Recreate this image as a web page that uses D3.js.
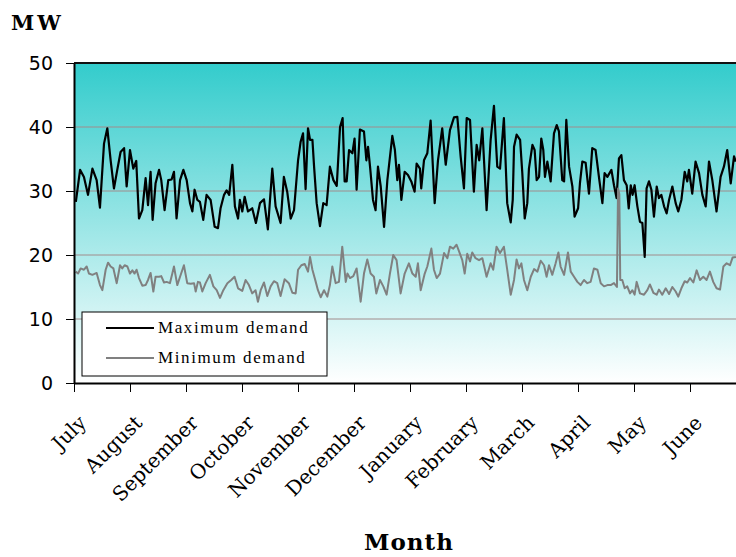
<!DOCTYPE html>
<html>
<head>
<meta charset="utf-8">
<script src="https://cdn.jsdelivr.net/npm/d3@7"></script>
<style>
  body { margin: 0; background: #fff; }
</style>
</head>
<body>
<svg id="chart" width="736" height="557"></svg>
<script>
// month categories along the x axis (financial year July -> June)
const months = ["July", "August", "September", "October", "November", "December",
                "January", "February", "March", "April", "May", "June"];
const yTicks = [0, 10, 20, 30, 40, 50];

// daily maximum demand, [day of year from 1 July, MW]
const maxDemand = [
  [1,28.3],[3.3,33.3],[5.4,32.2],[7.6,29.4],[10,33.5],[12.3,31.7],[14.1,27.4],[16.3,37.4],[18.1,39.8],[19.9,34.8],
  [21.7,30.4],[23.5,33.3],[25.3,36.1],[27.2,36.7],[28.6,30.7],[30.4,36.4],[32.2,33.5],[33.8,34.7],[35.3,25.7],[37.1,27.0],
  [38.9,32.0],[40.2,27.8],[41.6,33.0],[42.7,25.5],[44.3,31.2],[46.2,33.3],[47.4,31.7],[49.2,27.0],[51.2,31.7],[53,31.8],
  [54.3,33.0],[55.7,25.7],[57.6,31.7],[59.4,33.3],[61.2,31.7],[63,28.1],[64.3,26.8],[65.5,30.2],[67,28.6],[68.4,28.3],
  [70.2,25.5],[72,29.4],[74.2,28.6],[76.4,24.4],[78.2,24.2],[79.6,27.3],[81.5,29.4],[82.9,30.1],[84.3,29.4],[86,34.1],
  [87.4,27.6],[89.1,25.7],[90.1,28.6],[91.4,26.8],[92.7,29.1],[94.5,26.8],[96.8,27.3],[98.8,25.0],[101,28.1],[103.2,28.7],
  [105.3,24.0],[107.7,33.5],[109.5,27.6],[112.2,25.0],[114,32.2],[115.8,29.9],[117.7,25.7],[119.5,27.0],
  [121.7,34.8],[123.1,37.7],[124.4,39.0],[125.8,30.3],[127.1,39.8],[128.2,38.0],[129.5,38.0],[130.4,33.8],[131.8,28.1],
  [133.6,24.5],[135.4,28.1],[137.2,27.8],[139,33.8],[140.9,31.7],[142.7,30.8],[144.5,40.0],[145.9,41.4],[147,31.5],
  [148.1,31.5],[149.4,36.4],[151.2,35.9],[152.4,38.2],[153.5,30.2],[155.3,39.6],[157.5,39.3],[158.8,34.8],[159.7,36.9],
  [160.8,33.8],[162.4,28.6],[163.8,27.0],[165.1,33.8],[166.6,30.7],[168.4,24.4],[170.2,31.7],[172.9,38.6],[174.3,36.4],
  [175.6,31.7],[176.5,34.1],[177.8,28.6],[179.6,33.0],[181.4,32.5],[183.2,31.5],[185,29.9],[186.1,34.3],[187.9,33.5],
  [188.6,30.4],[190.1,34.8],[191.9,35.9],[193.7,41.0],[195.9,28.1],[197.7,34.8],[200,39.8],[201.9,34.1],[204.2,39.5],
  [206.4,41.5],[208.2,41.6],[210,35.4],[211.8,30.4],[213.3,41.4],[215.1,41.1],[217.2,29.9],[218.7,37.2],[220.1,34.8],
  [221.8,39.8],[224.1,27.0],[226.3,38.0],[228.1,43.3],[229.9,33.8],[231.4,33.5],[233.5,41.4],[235.3,28.1],[237.2,25.1],
  [238.3,28.6],[239,36.9],[240.4,38.8],[242.3,38.0],[243.5,32.8],[244.8,25.7],[246.2,28.1],[247.1,33.5],[249,37.2],
  [250.2,36.4],[251.3,31.7],[252.6,32.2],[253.8,38.2],[254.9,36.4],[255.8,32.2],[257.1,34.6],[258.9,31.5],[260.7,39.0],
  [262.2,40.3],[263.4,39.3],[265.2,31.7],[266.2,31.5],[267.4,41.1],[268.9,33.8],[270.7,30.7],[271.9,26.0],[273.8,27.3],
  [274.8,31.2],[276.1,34.6],[277.9,34.4],[279.7,29.6],[281.5,36.7],[283.3,36.4],[285.2,32.0],[287,28.1],[288.2,32.8],
  [289.7,32.2],[291.9,33.3],[293.3,30.9],[294.7,28.9],[296,35.1],[297.3,35.6],[298.7,31.7],[300.2,30.9],[301.3,27.3],
  [302.4,30.9],[303.4,29.4],[304.5,30.9],[306,27.6],[307.4,25.2],[308.7,25.0],[310,19.7],[311,30.4],[312.3,31.5],
  [313.6,30.2],[315,26.0],[316.5,30.7],[317.7,28.9],[319,29.4],[320.5,27.6],[321.9,26.5],[323.2,28.6],[325,30.7],
  [326.8,28.1],[328.2,26.8],[329.9,28.6],[331.7,33.0],[333.1,31.5],[334,33.3],[335.8,29.6],[337.6,34.6],[339.5,32.8],
  [341.3,29.4],[343.1,27.6],[344.9,34.6],[346.7,31.7],[349,26.8],[351.2,32.2],[353,33.8],[354.8,36.4],[356.7,31.2],
  [358.5,35.4],[359.5,34.6]
];

// daily minimum demand, [day of year from 1 July, MW]
const minDemand = [
  [0.9,17.4],[2.2,17.1],[3.6,17.9],[5.4,17.7],[6.9,18.2],[8.1,17.1],[10,16.9],[12.3,17.2],[14.1,15.3],[15.4,14.5],
  [17.2,17.7],[18.5,18.8],[19.9,18.2],[21.4,17.9],[23.2,15.6],[25,18.4],[26.2,17.9],[27.5,18.4],[29,18.2],[30.4,17.1],
  [31.7,17.6],[32.9,17.1],[34,17.7],[35.3,16.4],[37.1,15.2],[38.9,15.3],[40.2,16.1],[41.6,17.2],[43.1,14.3],[44.3,16.6],
  [46.2,16.6],[47.4,16.7],[48.9,15.7],[50.3,15.8],[52.1,15.6],[53.4,17.1],[54.3,18.2],[56.1,15.3],[57.6,16.6],[59.7,18.4],
  [61.5,15.6],[63.4,15.5],[65.2,15.6],[66.1,14.3],[67.3,15.8],[68.4,15.7],[69.7,14.3],[71.5,15.6],[73.8,16.9],[75.7,15.1],
  [77.5,14.5],[79.3,13.3],[81.1,14.5],[83.3,15.6],[85.4,16.1],[87.2,16.6],[89.1,14.8],[91.4,14.4],[93.2,16.1],[95,15.3],
  [96.8,14.0],[98.6,14.5],[99.9,12.7],[101.4,14.5],[103.2,15.7],[105,13.6],[106.8,15.1],[108.6,15.9],[110.4,15.6],[112.2,13.6],
  [114.4,16.2],[116.7,15.6],[118.6,14.1],
  [120.4,14.0],[121.7,17.7],[123.5,18.4],[125.3,18.6],[127.1,17.4],[128.2,19.7],[129.5,17.7],[131.3,15.8],[132.5,14.5],
  [134,13.4],[135.8,14.5],[137.6,13.5],[139,15.3],[140.3,18.2],[142.1,15.6],[143.9,15.8],[145.7,21.3],[147.6,15.8],
  [148.5,17.1],[149.9,16.4],[151.7,16.7],[153.5,17.9],[155.7,12.7],[157.5,17.1],[159.3,19.3],[161.1,17.1],[162.9,16.6],
  [164.2,14.0],[166.2,16.1],[168,15.1],[169.8,13.8],[171.6,17.1],[173.4,20.0],[175.2,19.2],[177.4,14.0],[179.6,17.1],
  [181.9,18.7],[183.8,17.1],[185.6,16.6],[186.8,18.7],[188.3,14.5],[190.5,17.1],[191.9,18.2],[194.1,21.0],[195.5,17.7],
  [197,16.4],[198.8,17.1],[201,20.3],[202.8,19.5],[204.2,21.3],[206,21.0],[207.8,21.6],[209.6,20.2],[210.9,19.2],
  [212.2,17.1],[213.6,20.2],[215.1,19.0],[216.3,20.4],[218.1,19.5],[220,19.2],[221.8,19.5],[224.1,16.6],[226.3,18.7],
  [227.7,17.7],[229.5,21.3],[231.4,20.3],[233.5,21.3],[235.3,17.7],[237.2,13.8],
  [239,16.1],[240.4,19.3],[241.7,17.9],[243,18.7],[244.4,16.1],[246.2,14.5],[248.1,16.6],[249.9,17.8],[251.7,17.4],
  [253.5,19.1],[255.3,18.4],[256.7,16.6],[258,18.4],[259.8,16.9],[261.6,18.7],[263.1,20.4],[264.3,18.2],[266.2,16.9],
  [268.3,20.4],[269.8,17.4],[271.6,16.6],[273.4,15.8],[275.2,15.3],[277,16.1],[278.8,15.6],[280.6,15.8],[282.4,17.9],
  [284.3,17.7],[286.1,15.6],[287.9,15.1],[289.7,15.3],[291.5,15.3],[293.3,15.6],[294.9,15.0],[295.5,30.4],[296.2,29.5],
  [296.7,16.1],[297.8,16.1],[299.1,14.8],[300.5,15.1],[302,14.0],[303.3,14.5],[304.5,13.8],[305.6,15.8],[307.4,14.0],
  [309.6,13.8],[311.4,14.5],[312.8,15.4],[314.7,14.1],[316.5,13.8],[317.7,14.6],[319.5,13.8],[321.4,14.8],[323.2,13.9],
  [325,15.0],[326.8,14.3],[328.2,13.5],[329.9,14.8],[331.7,15.9],[333.1,15.7],[334.6,16.4],[336.4,15.7],[338.2,17.6],
  [340,16.1],[341.8,16.6],[343.6,16.1],[345.4,17.4],[347.2,15.8],[349,14.8],[350.9,14.6],[352.7,18.2],[354.5,18.7],
  [356.3,18.4],[357.7,19.6],[359.5,19.7]
];

const svg = d3.select("#chart");
const plot = { left: 74, top: 63, right: 746, bottom: 383 };

const x = d3.scaleLinear().domain([0, 365]).range([plot.left, plot.right]);
const y = d3.scaleLinear().domain([0, 50]).range([plot.bottom, plot.top]);

// teal to white background fill
const grad = svg.append("defs").append("linearGradient")
    .attr("id", "bg")
    .attr("gradientUnits", "userSpaceOnUse")
    .attr("x1", 0).attr("y1", plot.top)
    .attr("x2", 0).attr("y2", plot.bottom);
grad.append("stop").attr("offset", 0).attr("stop-color", "#33cccc");
grad.append("stop").attr("offset", 1).attr("stop-color", "#ffffff");

svg.append("rect")
    .attr("x", plot.left)
    .attr("y", plot.top)
    .attr("width", plot.right - plot.left)
    .attr("height", plot.bottom - plot.top)
    .attr("fill", "url(#bg)");

// horizontal gridlines
svg.append("g")
    .selectAll("line")
    .data(yTicks.filter(d => d > 0 && d < 50))
    .join("line")
    .attr("x1", plot.left)
    .attr("x2", plot.right)
    .attr("y1", d => y(d))
    .attr("y2", d => y(d))
    .attr("stroke", "#a08c8c")
    .attr("stroke-width", 1);

// top frame line
svg.append("line")
    .attr("x1", plot.left).attr("x2", plot.right)
    .attr("y1", plot.top).attr("y2", plot.top)
    .attr("stroke", "#111").attr("stroke-width", 2);

const line = d3.line()
    .x(d => x(d[0]))
    .y(d => y(d[1]));

svg.append("path")
    .datum(maxDemand)
    .attr("d", line)
    .attr("fill", "none")
    .attr("stroke", "#000")
    .attr("stroke-width", 2.2)
    .attr("stroke-linejoin", "round");

svg.append("path")
    .datum(minDemand)
    .attr("d", line)
    .attr("fill", "none")
    .attr("stroke", "#808080")
    .attr("stroke-width", 2)
    .attr("stroke-linejoin", "round");

// y axis
const yAxis = svg.append("g")
    .attr("transform", `translate(${plot.left},0)`)
    .call(d3.axisLeft(y).tickValues(yTicks).tickSize(8).tickSizeOuter(0).tickPadding(13));
yAxis.select(".domain").attr("stroke", "#000").attr("stroke-width", 2);
yAxis.selectAll(".tick line").attr("stroke", "#000");
yAxis.selectAll(".tick text")
    .attr("font-family", "DejaVu Sans, sans-serif")
    .attr("font-size", 19)
    .attr("fill", "#000");

// x axis, one tick per month
const monthTicks = months.map((m, i) => i * 365 / 12);
const xAxis = svg.append("g")
    .attr("transform", `translate(0,${plot.bottom})`)
    .call(d3.axisBottom(x).tickValues(monthTicks).tickSize(9).tickSizeOuter(0)
        .tickFormat((d, i) => months[i]));
xAxis.select(".domain").attr("stroke", "#000").attr("stroke-width", 2);
xAxis.selectAll(".tick line").attr("stroke", "#000");
xAxis.selectAll(".tick text")
    .attr("x", 0).attr("y", 0).attr("dy", 0)
    .attr("text-anchor", "end")
    .attr("transform", "translate(13,41) rotate(-45)")
    .attr("font-family", "DejaVu Serif, serif")
    .attr("font-size", 20)
    .attr("fill", "#000");

// axis titles
svg.append("text")
    .attr("x", 11).attr("y", 30)
    .attr("font-family", "DejaVu Serif, serif")
    .attr("font-weight", "bold")
    .attr("font-size", 21)
    .attr("letter-spacing", 3)
    .text("MW");

svg.append("text")
    .attr("x", 409).attr("y", 550)
    .attr("text-anchor", "middle")
    .attr("font-family", "DejaVu Serif, serif")
    .attr("font-weight", "bold")
    .attr("font-size", 23)
    .attr("letter-spacing", 1)
    .text("Month");

// legend
const legend = svg.append("g").attr("transform", "translate(82,312)");
legend.append("rect")
    .attr("width", 245).attr("height", 64)
    .attr("fill", "#fff").attr("stroke", "#000").attr("stroke-width", 1);
const legendItems = [
  { name: "Maximum demand", color: "#000" },
  { name: "Minimum demand", color: "#808080" }
];
legendItems.forEach((item, i) => {
  const gy = 16 + i * 30;
  legend.append("line")
      .attr("x1", 24).attr("x2", 72)
      .attr("y1", gy).attr("y2", gy)
      .attr("stroke", item.color).attr("stroke-width", 2);
  legend.append("text")
      .attr("x", 76).attr("y", gy + 5)
      .attr("font-family", "Liberation Serif, serif")
      .attr("font-size", 17)
      .attr("letter-spacing", 1.6)
      .text(item.name);
});
</script>
</body>
</html>
